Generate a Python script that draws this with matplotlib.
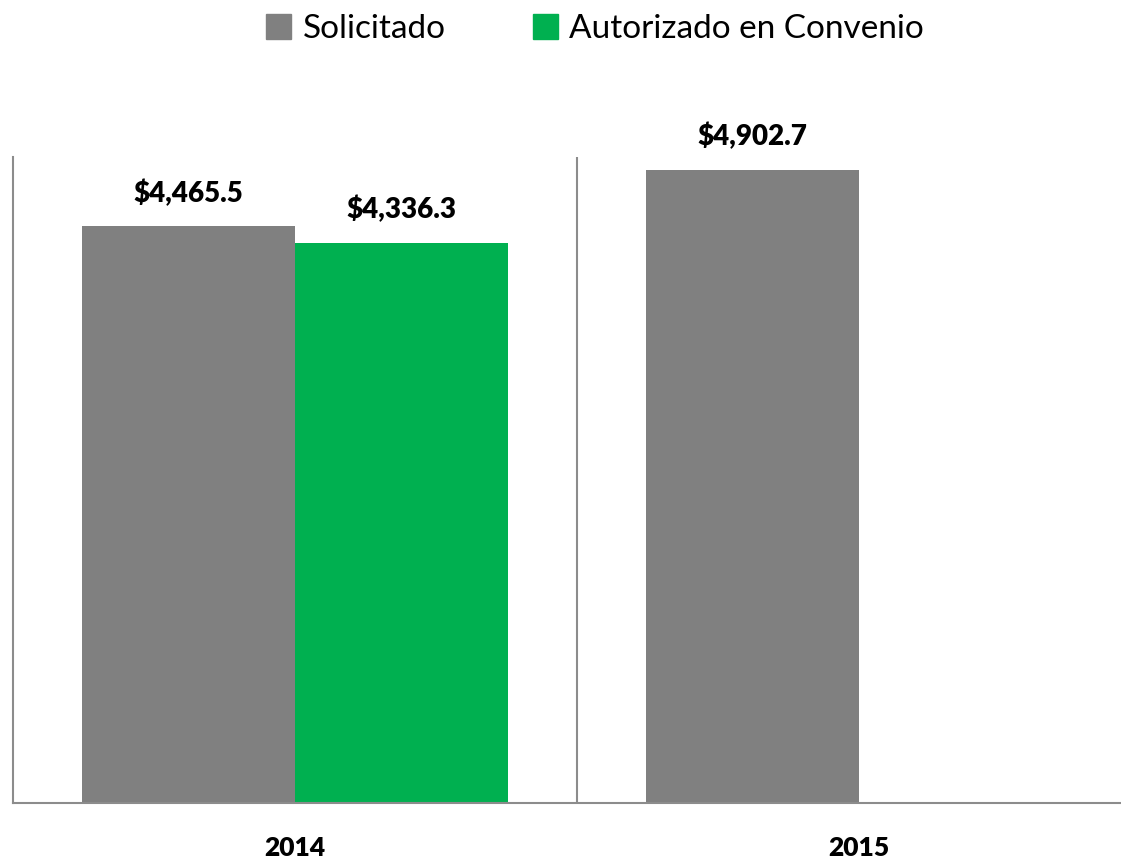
import numpy as np
import matplotlib.pyplot as plt
from matplotlib.patches import Patch

plt.rcParams['font.family'] = ['Lato', 'DejaVu Sans']

years = ['2014', '2015']
solicitado = [4465.5, 4902.7]
autorizado = [4336.3, np.nan]
series_names = ['Solicitado', 'Autorizado en Convenio']

color_sol = '#808080'
color_aut = '#00B050'
axis_color = '#8C8C8C'

fig = plt.figure(figsize=(11.21, 8.59), dpi=100)
ax = fig.add_axes([13 / 1121, 56 / 859, 1128 / 1121, 646 / 859])

x = np.arange(len(years))
w = 0.377
ax.bar(x - w / 2, solicitado, width=w, color=color_sol)
ax.bar(x + w / 2, autorizado, width=w, color=color_aut)

for xi, v in zip(x - w / 2, solicitado):
    ax.text(xi, v + 150, f'${v:,.1f}', ha='center', va='bottom',
            fontsize=20, fontweight='heavy')
for xi, v in zip(x + w / 2, autorizado):
    if not np.isnan(v):
        ax.text(xi, v + 150, f'${v:,.1f}', ha='center', va='bottom',
                fontsize=20, fontweight='heavy')

ax.set_xlim(-0.5, 1.5)
ax.set_ylim(0, 5000)
ax.axvline(0.5, color=axis_color, linewidth=1.5)

for s in ['top', 'right']:
    ax.spines[s].set_visible(False)
for s in ['left', 'bottom']:
    ax.spines[s].set_color(axis_color)
    ax.spines[s].set_linewidth(1.5)

ax.set_yticks([])
ax.set_xticks(x)
ax.set_xticklabels(years, fontsize=19, fontweight='heavy')
ax.tick_params(axis='x', length=0, pad=24)

handles = [Patch(color=color_sol), Patch(color=color_aut)]
fig.legend(handles, series_names, loc='center', bbox_to_anchor=(0.531, 0.966),
           ncol=2, frameon=False, fontsize=24, handlelength=0.75,
           handleheight=0.75, handletextpad=0.35, columnspacing=2.6)

fig.savefig('out.png', dpi=100)
